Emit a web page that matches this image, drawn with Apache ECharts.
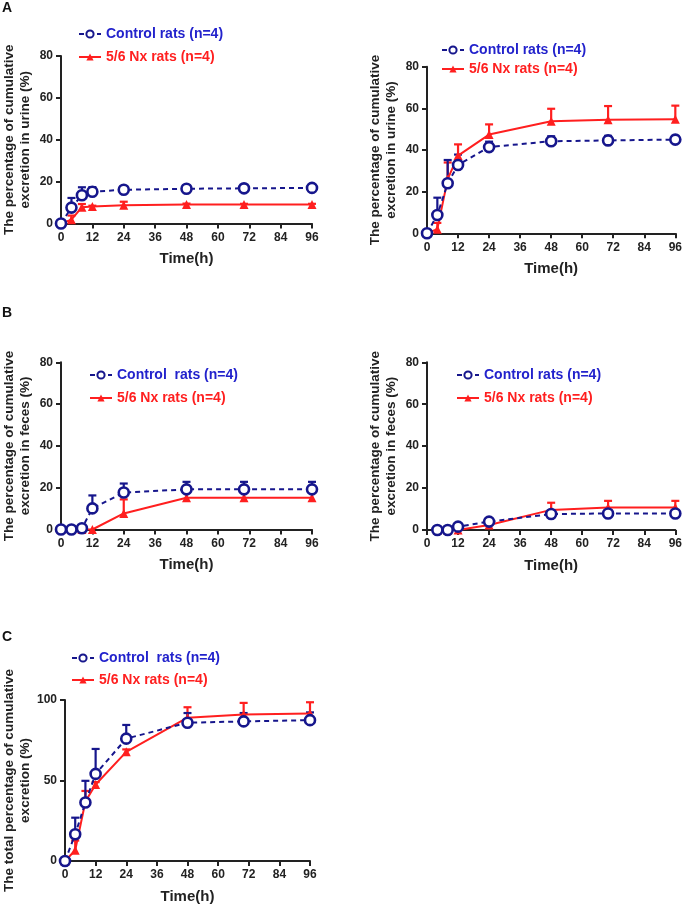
<!DOCTYPE html>
<html>
<head>
<meta charset="utf-8">
<script src="https://cdn.jsdelivr.net/npm/echarts@6/dist/echarts.min.js"></script>
<style>
html,body{margin:0;padding:0;background:#fff;}
#chart{width:685px;height:905px;}
</style>
</head>
<body>
<div id="chart"></div>
<script>
// ---------- DATA ----------
var timeH = [0, 4, 8, 12, 24, 48, 70, 96];
var timeH_B2 = [4, 8, 12, 24, 48, 70, 96];
var xTicks = [0, 12, 24, 36, 48, 60, 72, 84, 96];

// A (left) urine
var ctrlA1 = [0, 7.6, 13.5, 15.2, 16.1, 16.6, 16.8, 17.0];
var ctrlA1Err = [0, 4.6, 3.8, 2.2, 0.6, 0.6, 0.5, 0.5];
var nxA1 = [0, 1.8, 7.8, 8.1, 8.7, 9.1, 9.1, 9.1];
var nxA1Err = [0, 2.0, 1.5, 0.4, 1.7, 0.4, 0.3, 0.3];

// A (right) urine
var ctrlA2 = [0, 8.8, 24.0, 32.8, 41.4, 44.2, 44.6, 45.0];
var ctrlA2Err = [0, 8.3, 11.2, 5.0, 2.6, 2.4, 2.2, 1.8];
var nxA2 = [0, 2.0, 26.0, 37.3, 47.4, 53.8, 54.5, 54.8];
var nxA2Err = [0, 3.0, 8.0, 5.4, 4.9, 6.0, 6.6, 6.5];

// B (left) feces
var ctrlB1 = [0, 0, 0.6, 10.1, 17.7, 19.2, 19.2, 19.2];
var ctrlB1Err = [0, 0, 0.5, 6.2, 4.3, 3.6, 3.6, 3.6];
var nxB1 = [0, 0, 0, 0, 7.7, 15.2, 15.2, 15.2];
var nxB1Err = [0, 0, 0, 0, 6.7, 3.8, 3.8, 3.8];

// B (right) feces
var ctrlB2 = [0, 0, 1.6, 4.0, 7.6, 7.9, 7.9];
var ctrlB2Err = [0, 0, 0.4, 0.5, 0.5, 0.5, 0.5];
var nxB2 = [0, 0, 0, 2.4, 9.6, 10.7, 10.7];
var nxB2Err = [0, 0, 0, 2.0, 3.4, 3.2, 3.2];

// C total
var ctrlC = [0, 16.6, 36.3, 54.1, 76.0, 85.9, 86.7, 87.5];
var ctrlCErr = [0, 10.3, 13.5, 15.5, 8.5, 6.0, 5.2, 4.8];
var nxC = [0, 6.7, 37.0, 47.5, 67.8, 89.0, 91.0, 91.6];
var nxCErr = [0, 6.0, 6.5, 1.5, 1.5, 6.5, 7.2, 7.0];

var nameCtrl = 'Control rats (n=4)';
var nameCtrl2 = 'Control  rats (n=4)';
var nameNx = '5/6 Nx rats (n=4)';
var yNameUrine = 'The percentage of cumulative\nexcretion in urine (%)';
var yNameFeces = 'The percentage of cumulative\nexcretion in feces (%)';
var yNameTotal = 'The total percentage of cumulative\nexcretion (%)';

// ---------- STYLE ----------
var NAVY = '#16168c';
var BLUE_TXT = '#2222cc';
var RED = '#ff1f1f';
var FONT = '"Liberation Sans", Arial, sans-serif';

function zip(xs, ys) { return xs.map(function (x, i) { return [x, ys[i]]; }); }
function zip3(xs, ys, es) { return xs.map(function (x, i) { return [x, ys[i], es[i]]; }); }

function errRender(color) {
  return function (params, api) {
    var x = api.value(0), y = api.value(1), e = api.value(2);
    if (!e) return null;
    var p0 = api.coord([x, y]);
    var p1 = api.coord([x, y + e]);
    return {
      type: 'group',
      children: [
        { type: 'line', shape: { x1: p0[0], y1: p0[1], x2: p1[0], y2: p1[1] }, style: { stroke: color, lineWidth: 2.2 } },
        { type: 'line', shape: { x1: p1[0] - 4, y1: p1[1], x2: p1[0] + 4, y2: p1[1] }, style: { stroke: color, lineWidth: 2.2 } }
      ]
    };
  };
}

var grids = [
  { left: 61, top: 56, width: 251, height: 167.5 },
  { left: 427, top: 66.7, width: 251, height: 166.6 },
  { left: 60, top: 362.3, width: 252, height: 167.2 },
  { left: 427, top: 362.3, width: 251, height: 167.7 },
  { left: 65, top: 700, width: 245, height: 164.3 }
];

var yCfg = [
  { max: 80, interval: 20, name: yNameUrine },
  { max: 80, interval: 20, name: yNameUrine },
  { max: 80, interval: 20, name: yNameFeces },
  { max: 80, interval: 20, name: yNameFeces },
  { max: 100, interval: 50, name: yNameTotal }
];

var axisLine = { lineStyle: { color: '#222', width: 2 } };
var axisTick = { length: 5, lineStyle: { color: '#222', width: 2 } };
var axisLabel = { color: '#222', fontWeight: 'bold', fontSize: 12, fontFamily: FONT };

var xAxes = grids.map(function (g, i) {
  return {
    type: 'value', gridIndex: i, min: 0, max: 96, interval: 12,
    splitLine: { show: false },
    axisLine: axisLine, axisTick: axisTick,
    axisLabel: Object.assign({ margin: 8, showMinLabel: true, showMaxLabel: true }, axisLabel),
    name: 'Time(h)', nameLocation: 'middle', nameGap: 28,
    nameTextStyle: { color: '#222', fontWeight: 'bold', fontSize: 15, fontFamily: FONT }
  };
});
var yAxes = yCfg.map(function (c, i) {
  return {
    type: 'value', gridIndex: i, min: 0, max: c.max, interval: c.interval,
    splitLine: { show: false },
    axisLine: axisLine, axisTick: axisTick,
    axisLabel: Object.assign({ margin: 8 }, axisLabel),
    name: c.name, nameLocation: 'middle', nameGap: 28,
    nameTextStyle: { color: '#222', fontWeight: 'bold', fontSize: 13.5, lineHeight: 16, fontFamily: FONT }
  };
});

function ctrlSeries(name, xs, ys, i) {
  return {
    type: 'line', name: name, xAxisIndex: i, yAxisIndex: i, z: 4,
    data: zip(xs, ys),
    symbol: 'circle', symbolSize: 10,
    itemStyle: { color: '#fff', borderColor: NAVY, borderWidth: 2.6 },
    lineStyle: { color: NAVY, width: 2, type: [5, 4] },
    color: NAVY
  };
}
function nxSeries(name, xs, ys, i) {
  return {
    type: 'line', name: name, xAxisIndex: i, yAxisIndex: i, z: 3,
    data: zip(xs, ys),
    symbol: 'triangle', symbolSize: 9,
    itemStyle: { color: RED },
    lineStyle: { color: RED, width: 2 },
    color: RED
  };
}
function errSeries(name, xs, ys, es, i, color, z) {
  return {
    type: 'custom', name: name, xAxisIndex: i, yAxisIndex: i, z: z,
    data: zip3(xs, ys, es), renderItem: errRender(color)
  };
}

var series = [
  errSeries('errNxA1', timeH, nxA1, nxA1Err, 0, RED, 2),
  nxSeries(nameNx, timeH, nxA1, 0),
  errSeries('errCtrlA1', timeH, ctrlA1, ctrlA1Err, 0, NAVY, 3),
  ctrlSeries(nameCtrl, timeH, ctrlA1, 0),

  errSeries('errNxA2', timeH, nxA2, nxA2Err, 1, RED, 2),
  nxSeries(nameNx, timeH, nxA2, 1),
  errSeries('errCtrlA2', timeH, ctrlA2, ctrlA2Err, 1, NAVY, 3),
  ctrlSeries(nameCtrl, timeH, ctrlA2, 1),

  errSeries('errNxB1', timeH, nxB1, nxB1Err, 2, RED, 2),
  nxSeries(nameNx, timeH, nxB1, 2),
  errSeries('errCtrlB1', timeH, ctrlB1, ctrlB1Err, 2, NAVY, 3),
  ctrlSeries(nameCtrl2, timeH, ctrlB1, 2),

  errSeries('errNxB2', timeH_B2, nxB2, nxB2Err, 3, RED, 2),
  nxSeries(nameNx, timeH_B2, nxB2, 3),
  errSeries('errCtrlB2', timeH_B2, ctrlB2, ctrlB2Err, 3, NAVY, 3),
  ctrlSeries(nameCtrl, timeH_B2, ctrlB2, 3),

  errSeries('errNxC', timeH, nxC, nxCErr, 4, RED, 2),
  nxSeries(nameNx, timeH, nxC, 4),
  errSeries('errCtrlC', timeH, ctrlC, ctrlCErr, 4, NAVY, 3),
  ctrlSeries(nameCtrl2, timeH, ctrlC, 4)
];

function mkLegend(left, top, gap, ctrlName) {
  return {
    orient: 'vertical', left: left, top: top, itemGap: gap,
    itemWidth: 22, itemHeight: 9, selectedMode: false,
    textStyle: { fontWeight: 'bold', fontSize: 14, fontFamily: FONT },
    data: [
      { name: ctrlName, textStyle: { color: BLUE_TXT } },
      { name: nameNx, textStyle: { color: RED } }
    ]
  };
}

var option = {
  animation: false,
  backgroundColor: '#fff',
  grid: grids,
  xAxis: xAxes,
  yAxis: yAxes,
  legend: [
    mkLegend(73, 22, 9, nameCtrl),
    mkLegend(436, 38, 5, nameCtrl),
    mkLegend(84, 363, 9, nameCtrl2),
    mkLegend(451, 363, 9, nameCtrl),
    mkLegend(66, 646, 8, nameCtrl2)
  ],
  graphic: [
    { type: 'text', left: 2, top: 1, style: { text: 'A', font: 'bold 14px ' + FONT, fill: '#111' } },
    { type: 'text', left: 2, top: 306, style: { text: 'B', font: 'bold 14px ' + FONT, fill: '#111' } },
    { type: 'text', left: 2, top: 630, style: { text: 'C', font: 'bold 14px ' + FONT, fill: '#111' } }
  ],
  series: series
};

var chart = echarts.init(document.getElementById('chart'), null, { renderer: 'canvas' });
chart.setOption(option);
</script>
</body>
</html>
